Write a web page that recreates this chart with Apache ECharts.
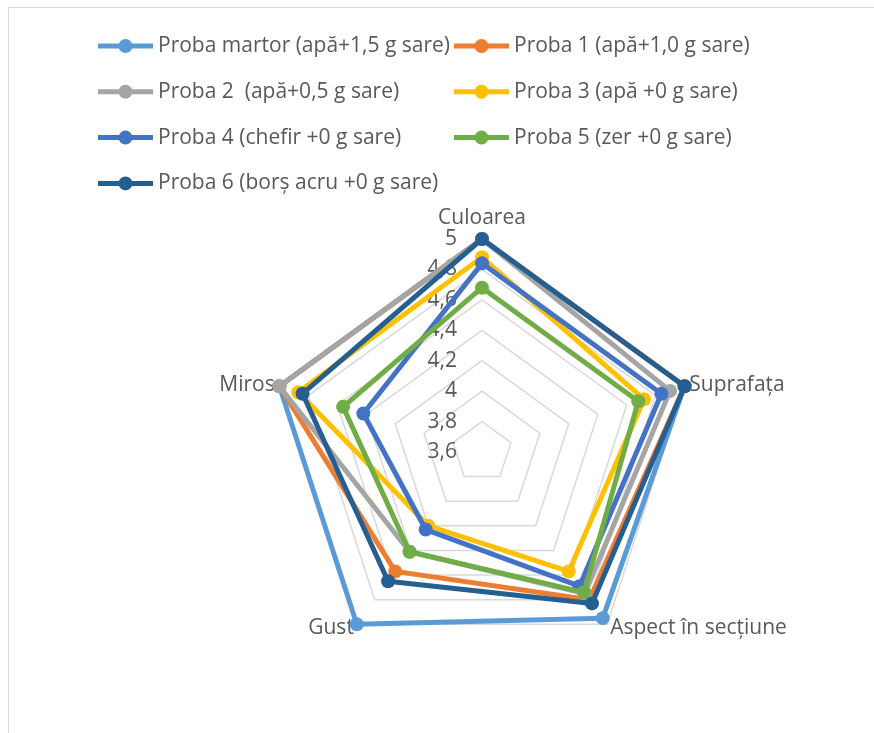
<!DOCTYPE html>
<html>
<head>
<meta charset="utf-8">
<script src="https://cdn.jsdelivr.net/npm/echarts@6/dist/echarts.min.js"></script>
<style>
  html, body { margin: 0; padding: 0; background: #ffffff; }
  #chart { width: 874px; height: 733px; }
</style>
</head>
<body>
<div id="chart"></div>
<script>
// Sensory criteria, clockwise from the top
const criteria = ['Culoarea', 'Suprafața', 'Aspect în secțiune', 'Gust', 'Miros'];

// Sample names
const sampleNames = [
  'Proba martor (apă+1,5 g sare)',
  'Proba 1 (apă+1,0 g sare)',
  'Proba 2  (apă+0,5 g sare)',
  'Proba 3 (apă +0 g sare)',
  'Proba 4 (chefir +0 g sare)',
  'Proba 5 (zer +0 g sare)',
  'Proba 6 (borș acru +0 g sare)'
];

// Mean scores per criterion, same order as `criteria`
const probaMartor = [5.00, 5.00, 4.95, 5.00, 5.00];
const proba1      = [5.00, 5.00, 4.80, 4.57, 5.00];
const proba2      = [5.00, 4.90, 4.75, 4.41, 5.00];
const proba3      = [4.88, 4.72, 4.57, 4.20, 4.87];
const proba4      = [4.84, 4.84, 4.69, 4.23, 4.42];
const proba5      = [4.68, 4.68, 4.74, 4.41, 4.56];
const proba6      = [5.00, 5.00, 4.83, 4.65, 4.84];

// Scale of the score axis
const scoreMin = 3.6;
const scoreMax = 5;
const scoreSteps = 7;

const sampleValues = [probaMartor, proba1, proba2, proba3, proba4, proba5, proba6];
const palette = ['#5B9BD5', '#ED7D31', '#A5A5A5', '#FFC000', '#4472C4', '#70AD47', '#255E91'];

// ECharts lays radar axes out counter-clockwise; walk the criteria in
// reverse (keeping the first one on top) so they read clockwise.
const axisOrder = [0].concat(criteria.map((_, i) => i).slice(1).reverse());
const reorder = arr => axisOrder.map(i => arr[i]);

const FONT = '"Open Sans", Lato, sans-serif';
const TEXT_COLOR = '#595959';
const FONT_SIZE = 21;

// legend glyph: a thick line with a round marker in the middle (55 x 14)
const legendGlyph = 'path://M0,4.5 L22,4.5 L22,9.5 L0,9.5 Z M33,4.5 L55,4.5 L55,9.5 L33,9.5 Z ' +
  'M20.5,7 A7,7 0 1,1 34.5,7 A7,7 0 1,1 20.5,7 Z';

const chart = echarts.init(document.getElementById('chart'), null, { renderer: 'canvas' });

const legendCommon = {
  orient: 'vertical',
  padding: 0,
  itemWidth: 55,
  itemHeight: 14,
  itemGap: 23.8,
  icon: legendGlyph,
  itemStyle: { borderWidth: 0 },
  textStyle: { color: TEXT_COLOR, fontSize: FONT_SIZE, fontFamily: FONT, lineHeight: 22 },
  selectedMode: false
};

const option = {
  backgroundColor: '#ffffff',
  animation: false,
  graphic: [{
    type: 'rect',
    silent: true,
    shape: { x: 8.5, y: 7.5, width: 900, height: 800 },
    style: { fill: 'none', stroke: '#D9D9D9', lineWidth: 1 }
  }],
  legend: [
    Object.assign({ left: 98, top: 35, data: [sampleNames[0], sampleNames[2], sampleNames[4], sampleNames[6]] }, legendCommon),
    Object.assign({ left: 454, top: 35, data: [sampleNames[1], sampleNames[3], sampleNames[5]] }, legendCommon)
  ],
  radar: {
    center: [482, 452],
    radius: 213,
    startAngle: 90,
    shape: 'polygon',
    splitNumber: scoreSteps,
    nameGap: 5,
    axisName: { color: TEXT_COLOR, fontSize: FONT_SIZE, fontFamily: FONT },
    indicator: reorder(criteria).map((name, i) => {
      const ind = { name: name, min: scoreMin, max: scoreMax };
      if (i === 0) ind.axisLabel = { show: true };
      return ind;
    }),
    axisLine: { show: false },
    axisTick: { show: false },
    axisLabel: {
      show: false,
      color: TEXT_COLOR,
      fontSize: FONT_SIZE,
      fontFamily: FONT,
      margin: 25,
      align: 'right',
      formatter: v => String(Math.round(v * 10) / 10).replace('.', ',')
    },
    splitLine: { lineStyle: { color: '#D9D9D9', width: 1.5 } },
    splitArea: { show: false }
  },
  series: sampleNames.map((name, i) => ({
    type: 'radar',
    name: name,
    z: 2 + i,
    symbol: 'circle',
    symbolSize: 14,
    lineStyle: { color: palette[i], width: 5 },
    itemStyle: { color: palette[i] },
    data: [{ name: name, value: reorder(sampleValues[i]) }]
  }))
};

chart.setOption(option);
</script>
</body>
</html>
